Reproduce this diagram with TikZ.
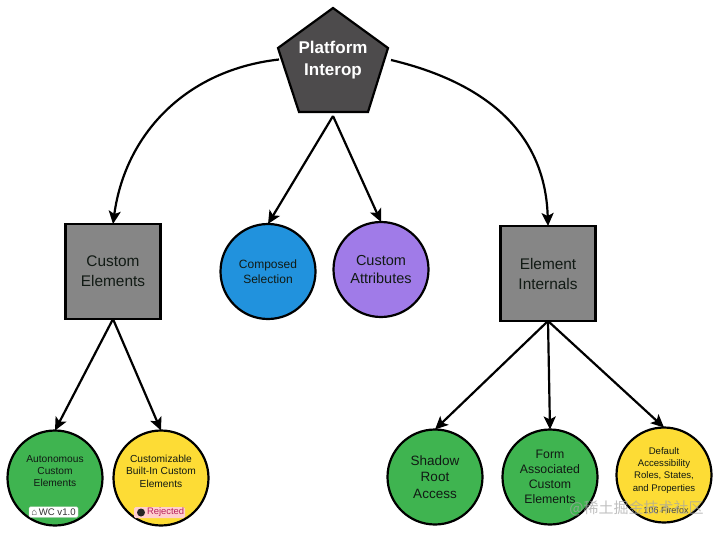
\documentclass[tikz,border=0pt]{standalone}
\usepackage{fontspec}
\setmainfont{Liberation Sans}
\newfontfamily\cjk{Noto Sans CJK SC}
\definecolor{darkgrey}{HTML}{4D4B4C}
\definecolor{midgrey}{HTML}{868686}
\definecolor{cgreen}{HTML}{3FB450}
\definecolor{cyellow}{HTML}{FDDC35}
\definecolor{cblue}{HTML}{2192DD}
\definecolor{cpurple}{HTML}{A07BE8}
\definecolor{ctext}{HTML}{111A14}
\definecolor{crimson}{HTML}{B8225F}
\usetikzlibrary{arrows.meta}
\tikzset{
 x=1pt,y=-1pt,
 every node/.style={inner sep=0pt,outer sep=0pt},
 conn/.style={draw=black,line width=2.2pt,-{Stealth[length=13pt,width=12pt,inset=3pt]}},
 sq/.style={draw=black,line width=2.2pt,fill=midgrey,minimum size=95pt,align=center,font=\fontsize{15.4}{20}\selectfont,text=ctext},
 circ/.style={circle,draw=black,line width=2.2pt,minimum size=#1,align=center,text=ctext},
 badge/.style={rounded corners=1.5pt,inner sep=0pt},
}
\begin{document}
\begin{tikzpicture}
\useasboundingbox (0,0) rectangle (720,533);
\fill[white] (0,0) rectangle (720,533);
\coordinate (pv1) at (333,8);
\coordinate (pv2) at (388,48);
\coordinate (pv3) at (368,112);
\coordinate (pv4) at (299,112);
\coordinate (pv5) at (278,48);
\draw[line width=2.2pt,fill=darkgrey,line join=miter] (pv1)--(pv2)--(pv3)--(pv4)--(pv5)--cycle;
\node[align=center,text=white,font=\bfseries\fontsize{17}{22}\selectfont] (plat) at (333,60) {Platform\\Interop};
\coordinate (pl) at (279,59.5);
\coordinate (pr) at (391,60);
\coordinate (pb) at (333,116);

\node[sq] (ce) at (113,271.5) {Custom\\Elements};
\node[sq] (ei) at (548,273.5) {Element\\Internals};
\node[circ=95pt,fill=cblue,font=\fontsize{12}{15}\selectfont] (cs) at (268,271.5) {Composed\\Selection};
\node[circ=95pt,fill=cpurple,font=\fontsize{14.5}{17.5}\selectfont] (ca) at (381,269.5) {Custom\\Attributes};
\node[circ=95pt,fill=cgreen,font=\fontsize{10.2}{12.3}\selectfont] (ace) at (55,478) {Autonomous\\Custom\\Elements\\[1.7pt]\mbox{}};
\node[circ=95pt,fill=cyellow,font=\fontsize{10.2}{12.3}\selectfont] (cbi) at (161,478) {Customizable\\Built-In Custom\\Elements\\[1.7pt]\mbox{}};
\node[circ=95pt,fill=cgreen,font=\fontsize{13.5}{16.5}\selectfont] (sra) at (435,477) {Shadow\\Root\\Access};
\node[circ=95pt,fill=cgreen,font=\fontsize{12.3}{15.2}\selectfont] (fac) at (550,477) {Form\\Associated\\Custom\\Elements};
\node[circ=95pt,fill=cyellow,font=\fontsize{9.6}{12.2}\selectfont] (dar) at (664,475) {Default\\Accessibility\\Roles, States,\\and Properties\\[-1pt]\mbox{}};

\node[badge,draw=black!15,fill=white,minimum width=49pt,minimum height=10.5pt] (b1) at (53.5,512) {};
\node[text=black!80,font=\fontsize{9.6}{10}\selectfont] (b1t) at (b1) {\char"2302\,WC v1.0};
\node[badge,fill=pink!75,minimum width=51pt,minimum height=11pt] (b2) at (159.5,512.5) {};
\node[circle,fill=black!85,minimum size=8pt] (b2i) at (141,512.5) {};
\node[text=crimson,font=\fontsize{9.4}{10}\selectfont,anchor=west] (b2t) at (147,512.5) {Rejected};
\node[font=\fontsize{9}{10}\selectfont,text=black!75] (b3) at (666,510.5) {106 Firefox};
\node[font=\cjk\fontsize{15}{16}\selectfont,text=black!35,opacity=.7] (wm) at (636.5,508) {@稀土掘金技术社区};

\draw[conn] (pl) .. controls (185,70) and (125,135) .. (ce.north);
\draw[conn] (pr) .. controls (475,80) and (545,125) .. (ei.north);
\draw[conn] (pb) -- (cs.north);
\draw[conn] (pb) -- (ca.north);
\draw[conn] (ce.south) -- (ace.north);
\draw[conn] (ce.south) -- (cbi.north);
\draw[conn] (ei.south) -- (sra.north);
\draw[conn] (ei.south) -- (fac.north);
\draw[conn] (ei.south) -- (dar.north);
\end{tikzpicture}
\end{document}
